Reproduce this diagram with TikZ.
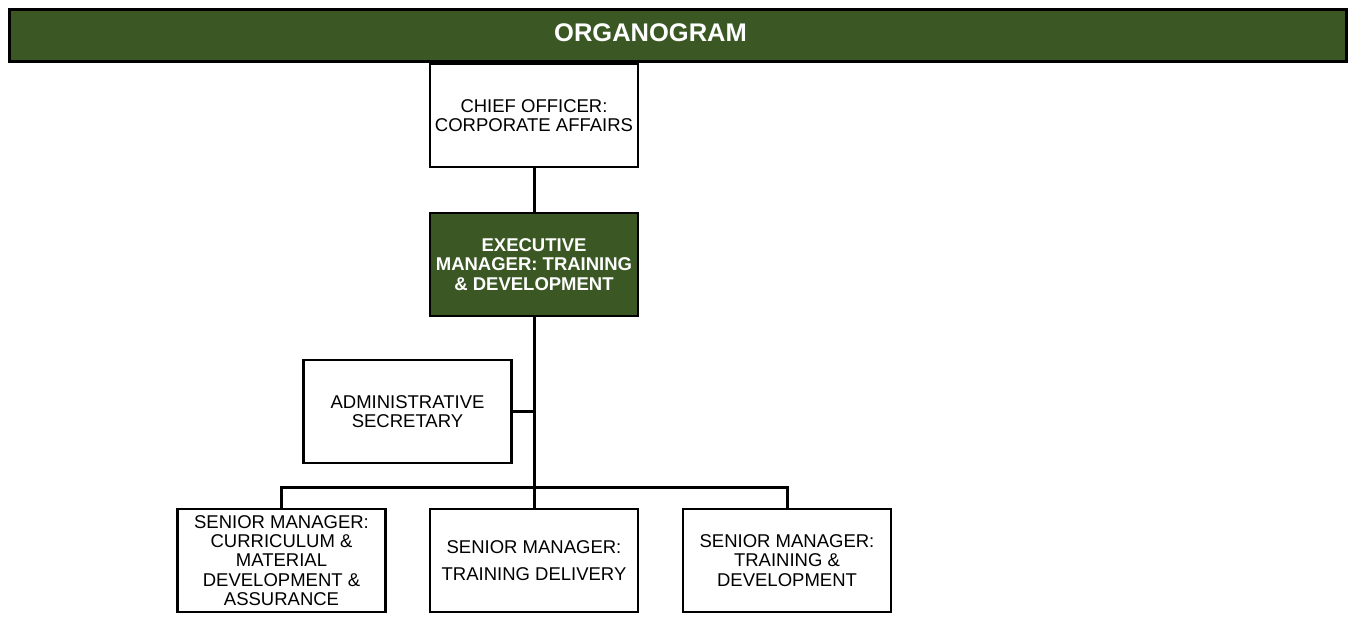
\documentclass[tikz,border=0pt]{standalone}
\usepackage{fontspec}
\setmainfont{Liberation Sans}
\definecolor{orggreen}{RGB}{58,87,36}
\begin{document}
\begin{tikzpicture}[x=1pt,y=-1pt,
  box/.style={draw=black, line width=2.5pt, rectangle, minimum width=208pt, minimum height=103pt,
    inner sep=0pt, align=center, font=\fontsize{18.5}{19.4}\selectfont},
  greenbox/.style={box, fill=orggreen, text=white, font=\fontsize{18.5}{19.4}\selectfont\bfseries},
  link/.style={draw=black, line width=3pt}
]
\useasboundingbox (0,0) rectangle (1351,619);
\node[draw=black, line width=3pt, fill=orggreen, minimum width=1337pt, minimum height=52pt, inner sep=0pt] (header) at (678,35.5) {};
\node[text=white, font=\fontsize{25.5}{27}\selectfont\bfseries, inner sep=0pt] (title) at (650.5,33) {ORGANOGRAM};

\node[box] (chief) at (534,115.5) {CHIEF OFFICER:\\CORPORATE AFFAIRS};
\node[greenbox] (exec) at (534,264.5) {EXECUTIVE\\MANAGER: TRAINING\\\& DEVELOPMENT};
\node[box] (admin) at (407.5,411.5) {ADMINISTRATIVE\\SECRETARY};
\node[box] (b1) at (281.5,560.5) {SENIOR MANAGER:\\CURRICULUM \&\\MATERIAL\\DEVELOPMENT \&\\ASSURANCE};
\node[box, font=\fontsize{18.5}{26.5}\selectfont] (b2) at (534,560.5) {SENIOR MANAGER:\\TRAINING DELIVERY};
\node[box] (b3) at (787,560.5) {SENIOR MANAGER:\\TRAINING \&\\DEVELOPMENT};
\coordinate (bus) at (534,487);

\draw[link] (chief.south) -- (exec.north);
\draw[link] (exec.south) -- (b2.north);
\draw[link] (admin.east) -- (admin.east -| bus);
\draw[link] (b1.north) |- (bus) -| (b3.north);
\end{tikzpicture}
\end{document}
